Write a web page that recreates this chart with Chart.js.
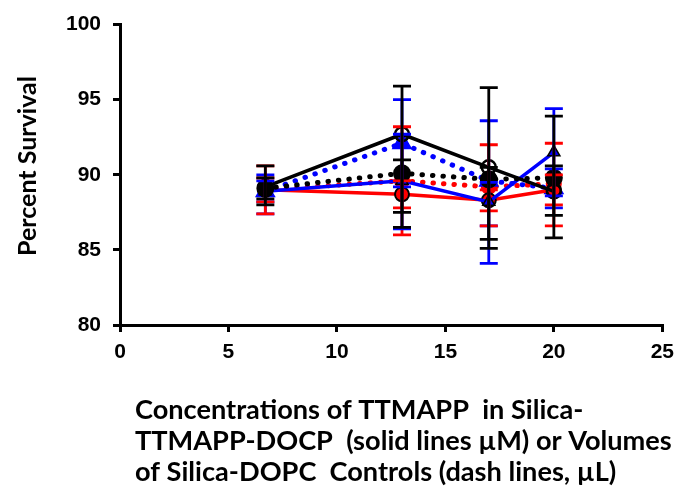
<!DOCTYPE html>
<html>
<head>
<meta charset="utf-8">
<script src="https://cdn.jsdelivr.net/npm/chart.js@4/dist/chart.umd.min.js"></script>
<style>
html,body{margin:0;padding:0;background:#fff;}
#wrap{width:682px;height:492px;position:relative;}
</style>
</head>
<body>
<div id="wrap"><canvas id="c" width="682" height="492"></canvas></div>
<script>
// ---- data ----
const concentrations = [6.7, 13, 17, 20];
const xTicks = [0, 5, 10, 15, 20, 25];
const yTicks = [80, 85, 90, 95, 100];

// solid lines (Silica-TTMAPP-DOPC, µM)
const redSolid   = [89.0, 88.7, 88.3, 89.0];
const blueSolid  = [88.9, 89.6, 88.2, 91.5];
const blackSolid = [89.2, 92.7, 90.5, 88.9];
// dashed lines (Silica-DOPC controls, µL)
const redDot     = [89.0, 89.6, 89.2, 89.4];
const blueDot    = [88.9, 92.1, 89.6, 89.1];
const blackDot   = [89.1, 90.1, 89.7, 89.8];

// error bar ends (upper, lower)
const redSolidHi   = [90.6, 89.6, 89.0, 90.0];
const redSolidLo   = [87.4, 87.8, 87.6, 88.0];
const blueSolidHi  = [90.0, 92.7, 89.5, 94.4];
const blueSolidLo  = [87.4, 86.4, 84.1, 88.6];
const blackSolidHi = [90.6, 95.9, 95.8, 93.9];
const blackSolidLo = [88.0, 86.5, 85.1, 85.8];
const redDotHi     = [89.8, 93.2, 92.0, 92.1];
const redDotLo     = [88.2, 86.0, 86.6, 86.6];
const blueDotHi    = [89.6, 95.0, 93.6, 90.4];
const blueDotLo    = [88.2, 89.2, 86.6, 87.8];
const blackDotHi   = [89.8, 91.0, 90.5, 90.6];
const blackDotLo   = [88.4, 87.5, 85.7, 87.3];

const yTitle = "Percent Survival";
const xTitleLines = [
  "Concentrations of TTMAPP  in Silica-",
  "TTMAPP-DOCP  (solid lines \u00b5M) or Volumes",
  "of Silica-DOPC  Controls (dash lines, \u00b5L)"
];

const RED = '#ff0000', BLUE = '#0000ff', BLACK = '#000000';

function pts(vals){ return concentrations.map((x,i)=>({x:x, y:vals[i]})); }

const datasets = [
  {label:'redDot', data:pts(redDot), borderColor:RED, borderWidth:5, borderDash:[0.5,10], borderCapStyle:'round',
   pointStyle:'circle', pointRadius:5.5, pointBackgroundColor:RED, pointBorderColor:RED, order:6,
   hi:redDotHi, lo:redDotLo, ecolor:RED},
  {label:'blueDot', data:pts(blueDot), borderColor:BLUE, borderWidth:5, borderDash:[0.5,10], borderCapStyle:'round',
   pointStyle:'triangle', pointRadius:7, pointBackgroundColor:BLUE, pointBorderColor:BLUE, order:5,
   hi:blueDotHi, lo:blueDotLo, ecolor:BLUE},
  {label:'redSolid', data:pts(redSolid), borderColor:RED, borderWidth:3.5,
   pointStyle:'circle', pointRadius:7, pointBackgroundColor:RED, pointBorderColor:BLACK, pointBorderWidth:2, order:4,
   hi:redSolidHi, lo:redSolidLo, ecolor:RED},
  {label:'blueSolid', data:pts(blueSolid), borderColor:BLUE, borderWidth:3.5,
   pointStyle:'triangle', pointRadius:7, pointBackgroundColor:BLUE, pointBorderColor:BLACK, pointBorderWidth:1.5, order:3,
   hi:blueSolidHi, lo:blueSolidLo, ecolor:BLUE},
  {label:'blackDot', data:pts(blackDot), borderColor:BLACK, borderWidth:5, borderDash:[0.5,10], borderCapStyle:'round',
   pointStyle:'circle', pointRadius:6.5, pointBackgroundColor:BLACK, pointBorderColor:BLACK, order:2,
   hi:blackDotHi, lo:blackDotLo, ecolor:BLACK},
  {label:'blackSolid', data:pts(blackSolid), borderColor:BLACK, borderWidth:3.5,
   pointStyle:'circle', pointRadius:7, pointBackgroundColor:'rgba(0,0,0,0)', pointBorderColor:BLACK, pointBorderWidth:2.5, order:1,
   hi:blackSolidHi, lo:blackSolidLo, ecolor:BLACK}
];
datasets.forEach(d=>{ d.showLine=true; d.tension=0; d.fill=false; d.pointHoverRadius=d.pointRadius; });

const errorBars = {
  id:'errorBars',
  afterDatasetsDraw(chart){
    const ctx = chart.ctx, xs = chart.scales.x, ys = chart.scales.y;
    const drawOrder = ['blueDot','redDot','blueSolid','redSolid','blackDot','blackSolid'];
    ctx.save();
    drawOrder.forEach(lbl=>{
      const ds = chart.data.datasets.find(d=>d.label===lbl);
      ctx.strokeStyle = ds.ecolor; ctx.lineWidth = 2.8; ctx.setLineDash([]); ctx.lineCap='butt';
      concentrations.forEach((x,i)=>{
        const px = xs.getPixelForValue(x);
        const y1 = ys.getPixelForValue(ds.hi[i]);
        const y2 = ys.getPixelForValue(ds.lo[i]);
        ctx.beginPath();
        ctx.moveTo(px,y1); ctx.lineTo(px,y2);
        ctx.moveTo(px-9,y1); ctx.lineTo(px+9,y1);
        ctx.moveTo(px-9,y2); ctx.lineTo(px+9,y2);
        ctx.stroke();
      });
    });
    ctx.restore();
  }
};

const titles = {
  id:'titles',
  afterDraw(chart){
    const ctx = chart.ctx;
    ctx.save();
    ctx.fillStyle = '#000';
    // y title
    ctx.translate(28, 166);
    ctx.rotate(-Math.PI/2);
    ctx.font = "bold 25px Lato";
    ctx.textAlign='center'; ctx.textBaseline='middle';
    ctx.fillText(yTitle, 0, 0);
    ctx.restore();
    // x title
    ctx.save();
    ctx.fillStyle = '#000';
    let size = 24;
    ctx.font = "bold "+size+"px Lato";
    const w = ctx.measureText(xTitleLines[1]).width;
    size = size * 537 / w;
    ctx.font = "bold "+size.toFixed(2)+"px Lato";
    ctx.textAlign='left'; ctx.textBaseline='middle';
    xTitleLines.forEach((t,i)=> ctx.fillText(t, 135, 410 + i*31));
    ctx.restore();
  }
};

new Chart(document.getElementById('c'), {
  type:'scatter',
  data:{datasets:datasets},
  options:{
    responsive:false, animation:false,
    layout:{padding:{top:20,right:14,left:0,bottom:0}},
    plugins:{legend:{display:false}, tooltip:{enabled:false}},
    scales:{
      x:{
        type:'linear', min:0, max:25,
        afterFit(s){ s.height = 167; },
        afterBuildTicks(s){ s.ticks = xTicks.map(v=>({value:v})); },
        border:{display:true, color:BLACK, width:3},
        grid:{drawOnChartArea:false, drawTicks:true, tickLength:7, color:BLACK, lineWidth:3},
        ticks:{color:BLACK, padding:8, font:{family:"'Liberation Sans', Arial", weight:'bold', size:21}, maxRotation:0}
      },
      y:{
        type:'linear', min:80, max:100,
        afterFit(s){ s.width = 120; },
        afterBuildTicks(s){ s.ticks = yTicks.map(v=>({value:v})); },
        border:{display:true, color:BLACK, width:3},
        grid:{drawOnChartArea:false, drawTicks:true, tickLength:7, color:BLACK, lineWidth:3},
        ticks:{color:BLACK, padding:12, font:{family:"'Liberation Sans', Arial", weight:'bold', size:21}}
      }
    }
  },
  plugins:[errorBars, titles]
});
</script>
</body>
</html>
